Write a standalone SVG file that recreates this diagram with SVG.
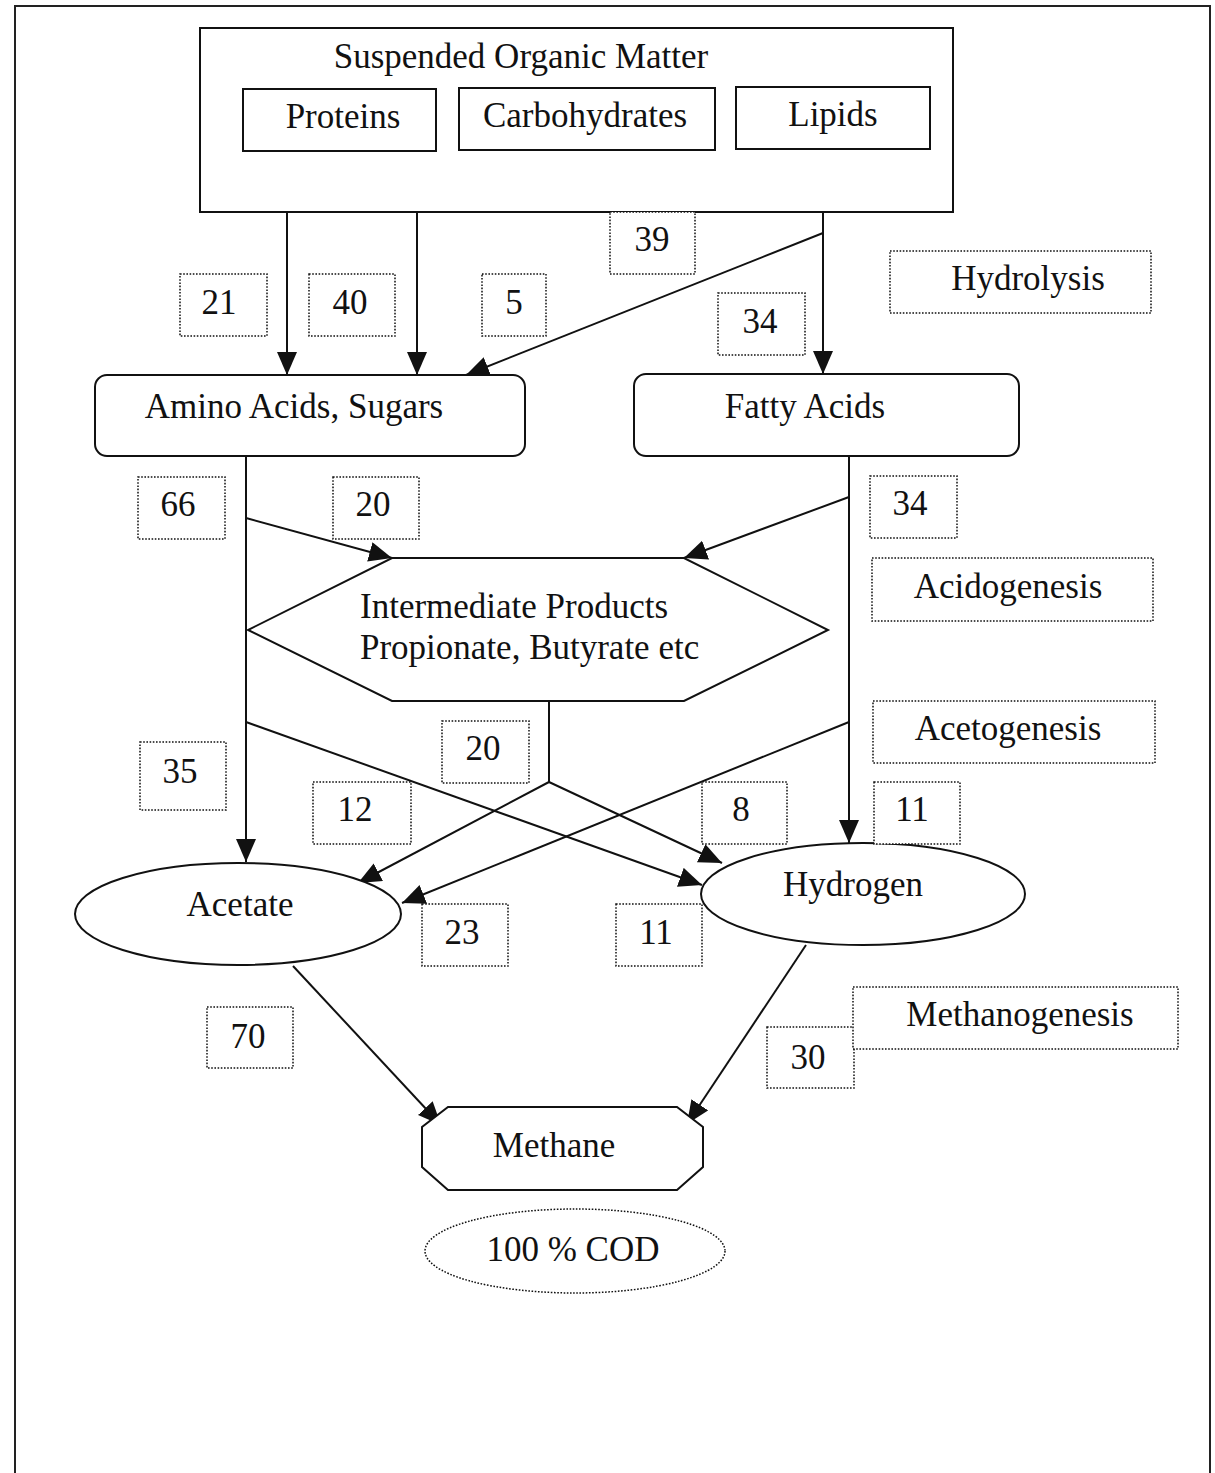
<svg xmlns="http://www.w3.org/2000/svg" width="1215" height="1473" viewBox="0 0 1215 1473">
<defs>
<style>
text{font-family:"Liberation Serif","Times New Roman",serif;font-size:35px;fill:#111;text-anchor:middle}
.node{fill:#fff;stroke:#111;stroke-width:2}
.lbl{fill:#fff;stroke:#111;stroke-width:1.5;stroke-dasharray:1.6 1.6}
.conn{fill:none;stroke:#111;stroke-width:2}
</style>
<marker id="ah" markerUnits="userSpaceOnUse" markerWidth="26" markerHeight="22" refX="23" refY="10" orient="auto">
<path d="M0,0 L23,10 L0,20 z" fill="#111"/>
</marker>
</defs>
<rect width="1215" height="1473" fill="#fff"/>
<path d="M15,1473 V6 H1210 V1473" fill="none" stroke="#222" stroke-width="2"/>

<g id="connectors">
<line class="conn" x1="287" y1="212" x2="287" y2="375" marker-end="url(#ah)"/>
<line class="conn" x1="417" y1="212" x2="417" y2="375" marker-end="url(#ah)"/>
<line class="conn" x1="823" y1="233" x2="466" y2="375" marker-end="url(#ah)"/>
<line class="conn" x1="823" y1="212" x2="823" y2="374" marker-end="url(#ah)"/>
<line class="conn" x1="246" y1="456" x2="246" y2="862" marker-end="url(#ah)"/>
<line class="conn" x1="246" y1="518" x2="392" y2="558" marker-end="url(#ah)"/>
<line class="conn" x1="849" y1="456" x2="849" y2="843" marker-end="url(#ah)"/>
<line class="conn" x1="849" y1="497" x2="684" y2="558" marker-end="url(#ah)"/>
<polyline class="conn" points="549,701 549,782"/>
<line class="conn" x1="549" y1="782" x2="358" y2="883" marker-end="url(#ah)"/>
<line class="conn" x1="549" y1="782" x2="722" y2="863" marker-end="url(#ah)"/>
<line class="conn" x1="246" y1="722" x2="702" y2="885" marker-end="url(#ah)"/>
<line class="conn" x1="849" y1="722" x2="402" y2="903" marker-end="url(#ah)"/>
<line class="conn" x1="293" y1="966" x2="441" y2="1125" marker-end="url(#ah)"/>
<line class="conn" x1="806" y1="945" x2="687" y2="1124" marker-end="url(#ah)"/>
</g>

<g id="suspended">
<rect class="node" x="200" y="28" width="753" height="184"/>
<text x="521" y="68">Suspended Organic Matter</text>
</g>
<g id="proteins">
<rect class="node" x="243" y="89" width="193" height="62"/>
<text x="343" y="128">Proteins</text>
</g>
<g id="carbohydrates">
<rect class="node" x="459" y="88" width="256" height="62"/>
<text x="585" y="127">Carbohydrates</text>
</g>
<g id="lipids">
<rect class="node" x="736" y="87" width="194" height="62"/>
<text x="833" y="126">Lipids</text>
</g>

<g id="amino">
<rect class="node" x="95" y="375" width="430" height="81" rx="12"/>
<text x="294" y="418">Amino Acids, Sugars</text>
</g>
<g id="fatty">
<rect class="node" x="634" y="374" width="385" height="82" rx="12"/>
<text x="805" y="418">Fatty Acids</text>
</g>

<g id="intermediate">
<polygon class="node" points="392,558 684,558 828,630 684,701 392,701 248,630"/>
<text x="360" y="618" style="text-anchor:start">Intermediate Products</text>
<text x="360" y="659" style="text-anchor:start">Propionate, Butyrate etc</text>
</g>

<g id="acetate">
<ellipse class="node" cx="238" cy="914" rx="163" ry="51"/>
<text x="240" y="916">Acetate</text>
</g>
<g id="hydrogen">
<ellipse class="node" cx="863" cy="894" rx="162" ry="51"/>
<text x="853" y="896">Hydrogen</text>
</g>

<g id="methane">
<polygon class="node" points="448,1107 677,1107 703,1127 703,1167 677,1190 448,1190 422,1167 422,1127"/>
<text x="554" y="1157">Methane</text>
</g>

<g id="cod">
<ellipse class="lbl" cx="575" cy="1251" rx="150" ry="42"/>
<text x="573" y="1261">100 % COD</text>
</g>

<g id="labels">
<g id="l39"><rect class="lbl" x="610" y="212" width="85" height="62"/><text x="652" y="251">39</text></g>
<g id="l21"><rect class="lbl" x="180" y="274" width="87" height="62"/><text x="219" y="314">21</text></g>
<g id="l40"><rect class="lbl" x="309" y="274" width="86" height="62"/><text x="350" y="314">40</text></g>
<g id="l5"><rect class="lbl" x="482" y="274" width="64" height="62"/><text x="514" y="314">5</text></g>
<g id="l34a"><rect class="lbl" x="718" y="293" width="87" height="62"/><text x="760" y="333">34</text></g>
<g id="hydrolysis"><rect class="lbl" x="890" y="251" width="261" height="62"/><text x="1028" y="290">Hydrolysis</text></g>
<g id="l66"><rect class="lbl" x="138" y="477" width="87" height="62"/><text x="178" y="516">66</text></g>
<g id="l20a"><rect class="lbl" x="333" y="477" width="86" height="62"/><text x="373" y="516">20</text></g>
<g id="l34b"><rect class="lbl" x="870" y="476" width="87" height="62"/><text x="910" y="515">34</text></g>
<g id="acidogenesis"><rect class="lbl" x="872" y="558" width="281" height="63"/><text x="1008" y="598">Acidogenesis</text></g>
<g id="acetogenesis"><rect class="lbl" x="873" y="701" width="282" height="62"/><text x="1008" y="740">Acetogenesis</text></g>
<g id="l35"><rect class="lbl" x="140" y="742" width="86" height="68"/><text x="180" y="783">35</text></g>
<g id="l20b"><rect class="lbl" x="442" y="721" width="87" height="62"/><text x="483" y="760">20</text></g>
<g id="l12"><rect class="lbl" x="313" y="782" width="98" height="62"/><text x="355" y="821">12</text></g>
<g id="l8"><rect class="lbl" x="702" y="782" width="85" height="62"/><text x="741" y="821">8</text></g>
<g id="l11a"><rect class="lbl" x="874" y="782" width="86" height="62"/><text x="912" y="821">11</text></g>
<g id="l23"><rect class="lbl" x="422" y="904" width="86" height="62"/><text x="462" y="944">23</text></g>
<g id="l11b"><rect class="lbl" x="616" y="904" width="86" height="62"/><text x="656" y="944">11</text></g>
<g id="l70"><rect class="lbl" x="207" y="1007" width="86" height="61"/><text x="248" y="1048">70</text></g>
<g id="l30"><rect class="lbl" x="767" y="1027" width="87" height="61"/><text x="808" y="1069">30</text></g>
<g id="methanogenesis"><rect class="lbl" x="853" y="987" width="325" height="62"/><text x="1020" y="1026">Methanogenesis</text></g>
</g>
</svg>
